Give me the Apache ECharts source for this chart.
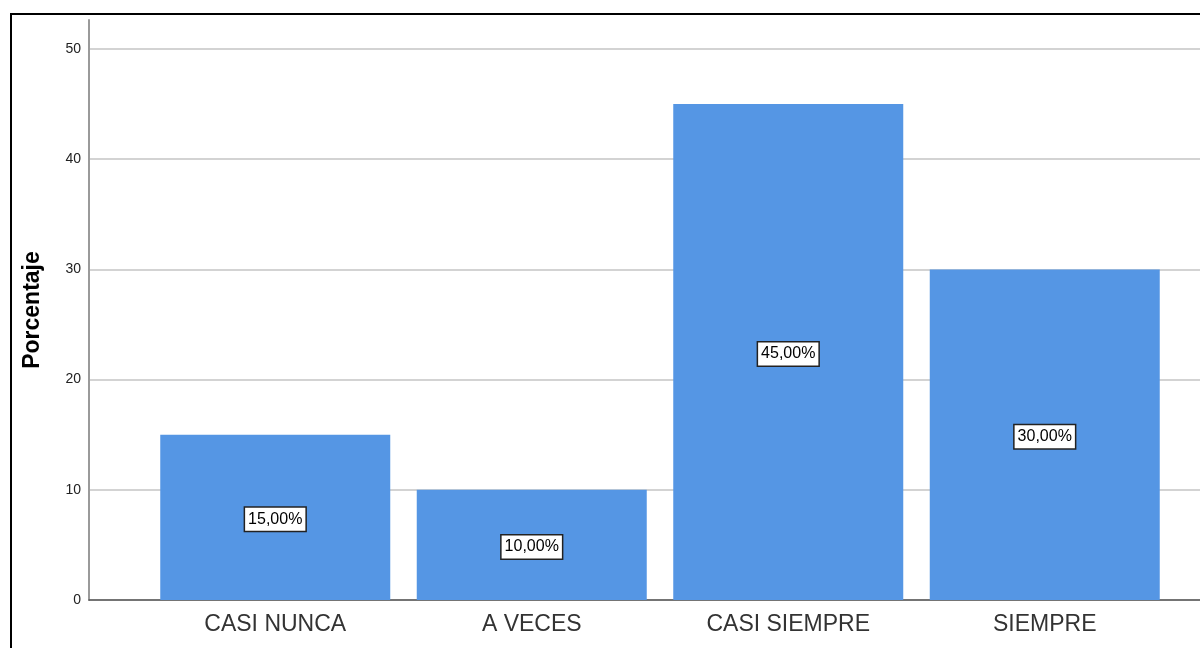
<!DOCTYPE html>
<html>
<head>
<meta charset="utf-8">
<script src="https://cdn.jsdelivr.net/npm/echarts@6/dist/echarts.min.js"></script>
<style>
html,body{margin:0;padding:0;background:#fff;overflow:hidden;}
#frame{position:absolute;left:10px;top:13px;width:1400px;height:800px;border-left:2px solid #000;border-top:2px solid #000;}
#chart{position:absolute;left:0;top:0;width:1200px;height:648px;}
</style>
</head>
<body>
<div id="frame"></div>
<div id="chart"></div>
<script>
const categories = ['CASI NUNCA', 'A VECES', 'CASI SIEMPRE', 'SIEMPRE'];
const percentages = [15, 10, 45, 30];
const yTicks = [0, 10, 20, 30, 40, 50];
const yTitle = 'Porcentaje';

const font = '"Liberation Sans", Arial, sans-serif';
const chart = echarts.init(document.getElementById('chart'), null, {renderer: 'canvas'});
chart.setOption({
  animation: false,
  backgroundColor: 'transparent',
  grid: [
    {left: 89, right: -20, top: 20, bottom: 48},
    {left: 89, right: -20, top: 49, bottom: 48},
    {left: 147, right: 27, top: 49, bottom: 48}
  ],
  xAxis: [
    {gridIndex: 0, type: 'value', min: 0, max: 1, axisLine: {show: true, lineStyle: {color: '#555', width: 1.5}}, axisTick: {show: false}, axisLabel: {show: false}, splitLine: {show: false}},
    {gridIndex: 1, type: 'value', min: 0, max: 1, show: false},
    {gridIndex: 2, type: 'category', data: categories,
      axisLine: {show: false}, axisTick: {show: false},
      axisLabel: {margin: 13, fontSize: 23, color: '#333', fontFamily: font}}
  ],
  yAxis: [
    {gridIndex: 0, type: 'value', min: 0, max: 52.7,
      name: yTitle, nameLocation: 'middle', nameGap: 45,
      nameTextStyle: {fontSize: 23, fontWeight: 'bold', color: '#000', fontFamily: font},
      axisLine: {show: true, lineStyle: {color: '#9a9a9a', width: 2}},
      axisTick: {show: false}, axisLabel: {show: false}, splitLine: {show: false}},
    {gridIndex: 1, type: 'value', min: yTicks[0], max: yTicks[yTicks.length - 1], interval: 10,
      axisLine: {show: false}, axisTick: {show: false},
      axisLabel: {margin: 8, fontSize: 14, color: '#222', fontFamily: font},
      splitLine: {show: true, lineStyle: {color: '#d3d3d3', width: 2}}},
    {gridIndex: 2, type: 'value', min: 0, max: 50, show: false}
  ],
  series: [{
    type: 'bar',
    xAxisIndex: 2, yAxisIndex: 2,
    data: percentages,
    barWidth: 230,
    itemStyle: {color: '#5596E4'},
    label: {
      show: true, position: 'inside', offset: [0, 2],
      formatter: p => p.value.toFixed(2).replace('.', ',') + '%',
      backgroundColor: '#fff', borderColor: '#222', borderWidth: 1.5,
      padding: [4, 3, 3, 3], fontSize: 16, color: '#000', fontFamily: font
    }
  }]
});
</script>
</body>
</html>
